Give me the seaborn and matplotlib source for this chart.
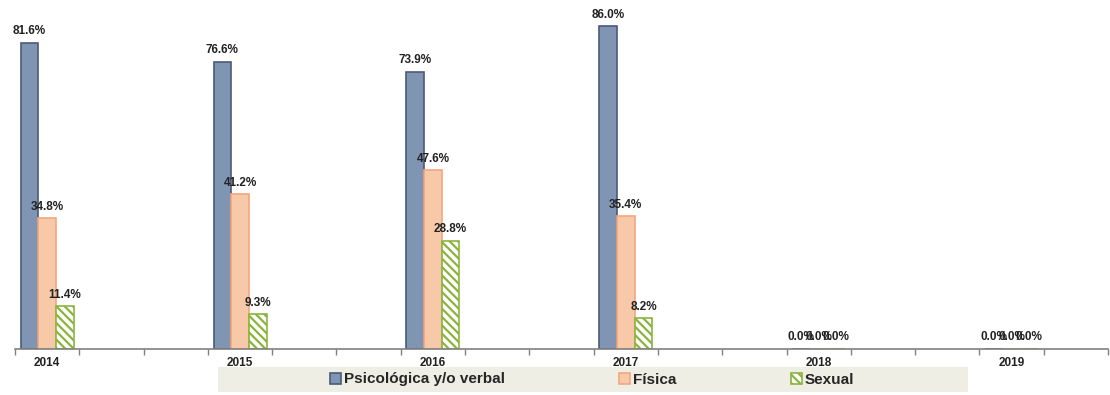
import matplotlib
matplotlib.use("Agg")
import matplotlib.pyplot as plt
from matplotlib.patches import Patch, Rectangle
import numpy as np
import pandas as pd
import seaborn as sns

# Data
years = ["2014", "2015", "2016", "2017", "2018", "2019"]
psicologica = [81.6, 76.6, 73.9, 86.0, 0.0, 0.0]
fisica = [34.8, 41.2, 47.6, 35.4, 0.0, 0.0]
sexual = [11.4, 9.3, 28.8, 8.2, 0.0, 0.0]
series_names = ["Psicológica y/o verbal", "Física", "Sexual"]

# each year sits in every third category slot, like the original Excel axis
positions = [i * 3 for i in range(len(years))]

df = pd.DataFrame({
    "pos": positions * 3,
    "tipo": [series_names[0]] * 6 + [series_names[1]] * 6 + [series_names[2]] * 6,
    "valor": psicologica + fisica + sexual,
})

styles = {
    series_names[0]: dict(facecolor="#8095b3", edgecolor="#4b5b78", hatch=None),
    series_names[1]: dict(facecolor="#f8c9a9", edgecolor="#f3a77e", hatch=None),
    series_names[2]: dict(facecolor="white", edgecolor="#8bb43e", hatch="\\\\\\\\"),
}

sns.set_style("white")
plt.rcParams["font.family"] = ["Liberation Sans", "DejaVu Sans"]
plt.rcParams["hatch.linewidth"] = 1.6

fig = plt.figure(figsize=(11.1, 3.95), dpi=100)
ax = fig.add_axes([15 / 1110, 46 / 395, 1093 / 1110, 344 / 395])

sns.barplot(data=df, x="pos", y="valor", hue="tipo", hue_order=series_names,
            native_scale=True, width=0.275, errorbar=None, legend=False, ax=ax)

for name, cont in zip(series_names, ax.containers):
    st = styles[name]
    for bar in cont:
        bar.set_facecolor(st["facecolor"])
        bar.set_edgecolor(st["edgecolor"])
        bar.set_linewidth(1.2)
        if st["hatch"]:
            bar.set_hatch(st["hatch"])
    ax.bar_label(cont, fmt="%.1f%%", padding=4, fontsize=8.5, fontweight="bold",
                 color="#222222")

ax.set_xlim(-0.5, 16.5)
ax.set_ylim(0, 91.7)
ax.set_xticks(positions)
ax.set_xticklabels(years, fontsize=8.5, fontweight="bold", color="#222222")
ax.set_xticks(np.arange(-0.5, 17, 1), minor=True)
ax.tick_params(axis="x", which="major", bottom=True, length=0, pad=6)
ax.tick_params(axis="x", which="minor", bottom=True, length=4, color="#808080", width=1)
ax.set_yticks([])
ax.set_xlabel("")
ax.set_ylabel("")
for side in ["top", "right", "left"]:
    ax.spines[side].set_visible(False)
ax.spines["bottom"].set_color("#808080")
ax.spines["bottom"].set_linewidth(1.2)

# legend strip
fig.patches.append(Rectangle((218 / 1110, 3 / 395), 750 / 1110, 25 / 395,
                             transform=fig.transFigure, facecolor="#efeee4",
                             edgecolor="none", zorder=0))
handles = [Patch(facecolor=styles[n]["facecolor"], edgecolor=styles[n]["edgecolor"],
                 hatch=styles[n]["hatch"], linewidth=1.2, label=n) for n in series_names]
fig.legend(handles=handles, loc="center", bbox_to_anchor=(592 / 1110, 15.5 / 395),
           ncol=3, frameon=False, prop={"weight": "bold", "size": 11},
           handlelength=0.7, handleheight=0.7, handletextpad=0.2, columnspacing=7.5)

fig.savefig("out.png", dpi=100)
